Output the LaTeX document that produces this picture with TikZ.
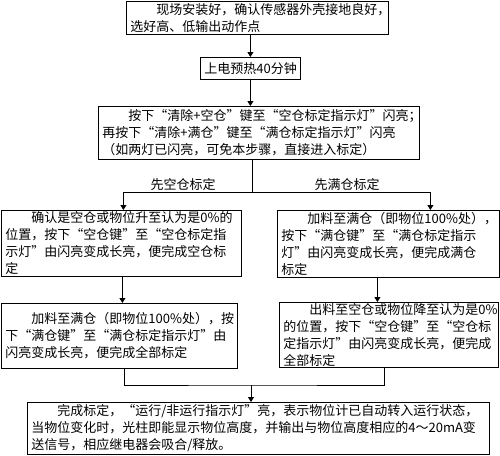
\documentclass[tikz,border=0pt]{standalone}
\usepackage{fontspec}
\setmainfont{Noto Sans CJK SC}
\usepackage{tikz}
\usetikzlibrary{arrows.meta, positioning}

\tikzset{
    box/.style={draw, line width=0.8pt, anchor=north west, inner xsep=4pt, inner ysep=1pt,
        align=left, font=\fontsize{13}{17}\selectfont},
    flow/.style={line width=0.8pt, -{Triangle[length=5pt, width=6pt]}},
    link/.style={line width=0.8pt}
}

\begin{document}
\begin{tikzpicture}[x=1pt, y=-1pt]
        \useasboundingbox (0,0) rectangle (500,455);

        \node[box, minimum width=262pt, minimum height=33pt, text width=254pt] (b1) at (126,1)
            {\hspace*{2em}现场安装好，确认传感器外壳接地良好，\\选好高、低输出动作点};
        \node[box, align=center, minimum width=100pt, minimum height=22pt, text width=92pt] (b2) at (200,57)
            {上电预热40分钟};
        \node[box, minimum width=321pt, minimum height=53pt, text width=313pt] (b3) at (98,106)
            {\hspace*{2em}按下“清除+空仓”键至“空仓标定指示灯”闪亮；\\
             再按下“清除+满仓”键至“满仓标定指示灯”闪亮\\
             （如两灯已闪亮，可免本步骤，直接进入标定）};

        \node[box, minimum width=240pt, minimum height=66pt, text width=232pt] (b4) at (1,210)
            {\hspace*{2em}确认是空仓或物位升至认为是0\%的\\
             位置，按下“空仓键”至“空仓标定指\\
             示灯”由闪亮变成长亮，便完成空仓标\\
             定};
        \node[box, minimum width=222pt, minimum height=67pt, text width=214pt] (b5) at (277,210)
            {\hspace*{2em}加料至满仓（即物位100\%处），\\
             按下“满仓键”至“满仓标定指示\\
             灯”由闪亮变成长亮，便完成满仓\\
             标定};

        \node[box, minimum width=236pt, minimum height=65pt, text width=228pt] (b6) at (1,303)
            {\hspace*{2em}加料至满仓（即物位100\%处），按\\
             下“满仓键”至“满仓标定指示灯”由\\
             闪亮变成长亮，便完成全部标定};
        \node[box, minimum width=219pt, minimum height=65pt, text width=211pt] (b7) at (279,302)
            {\hspace*{2em}出料至空仓或物位降至认为是0\%\\
             的位置，按下“空仓键”至“空仓标\\
             定指示灯”由闪亮变成长亮，便完成\\
             全部标定};

        \node[box, minimum width=462pt, minimum height=52pt, text width=454pt] (b8) at (27,402)
            {\hspace*{2em}完成标定，“运行/非运行指示灯”亮，表示物位计已自动转入运行状态，\\
             当物位变化时，光柱即能显示物位高度，并输出与物位高度相应的4～20mA变\\
             送信号，相应继电器会吸合/释放。};

        \node[font=\fontsize{13}{17}\selectfont] (empty) at (183,185) {先空仓标定};
        \node[font=\fontsize{13}{17}\selectfont] (full) at (347,185) {先满仓标定};

        \coordinate (split) at (252,192);
        \coordinate (join) at (251,385);

        \draw[flow] (b1.south -| b2.north) -- (b2.north);
        \draw[flow] (b2.south) -- (b2.south |- b3.north);
        \draw[link] (split |- b3.south) -- (split);
        \draw[flow] (split) -| ([xshift=2pt]b4.north);
        \draw[flow] (split) -| ([xshift=42pt]b5.north);
        \draw[flow] ([xshift=1pt]b4.south) -- ([xshift=1pt]b4.south |- b6.north);
        \draw[flow] ([xshift=-11pt]b5.south) -- ([xshift=-11pt]b5.south |- b7.north);
        \draw[link] ([xshift=5pt]b6.south) |- (join) -| ([xshift=-5pt]b7.south);
        \draw[flow] (join) -- (join |- b8.north);
    \end{tikzpicture}
\end{document}
